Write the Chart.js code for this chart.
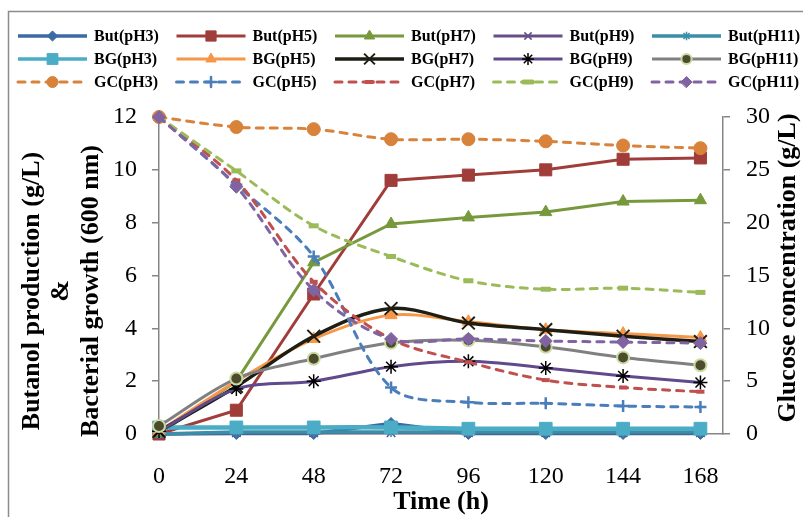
<!DOCTYPE html>
<html lang="en">
<head>
    <meta charset="UTF-8">
    <title>Butanol, growth and glucose vs time</title>
    <script src="https://cdn.jsdelivr.net/npm/chart.js"></script>
    <style>
        body { margin: 0; background: #fff; }
        canvas { display: block; }
    </style>
</head>
<body>
    <canvas id="chart" width="803" height="517"></canvas>

    <script>
        const FONT = '"Liberation Serif", "Times New Roman", serif';

        // sampling times (h)
        const timeH = [0, 24, 48, 72, 96, 120, 144, 168];

        // butanol production (g/L)
        const butPH3  = [0, 0.02, 0.02, 0.4, 0.02, 0.02, 0.02, 0.02];
        const butPH5  = [0, 0.9, 5.3, 9.6, 9.8, 10.0, 10.4, 10.45];
        const butPH7  = [0, 2.0, 6.5, 7.95, 8.2, 8.4, 8.8, 8.85];
        const butPH9  = [0, 0.05, 0.05, 0.05, 0.05, 0.05, 0.05, 0.05];
        const butPH11 = [0, 0.08, 0.08, 0.08, 0.08, 0.08, 0.08, 0.08];

        // bacterial growth (OD 600 nm)
        const bgPH3  = [0.25, 0.25, 0.25, 0.25, 0.2, 0.2, 0.2, 0.2];
        const bgPH5  = [0.1, 2.0, 3.6, 4.5, 4.25, 3.95, 3.8, 3.65];
        const bgPH7  = [0.1, 1.8, 3.7, 4.75, 4.2, 3.95, 3.7, 3.5];
        const bgPH9  = [0.1, 1.7, 2.0, 2.55, 2.75, 2.5, 2.2, 1.95];
        const bgPH11 = [0.3, 2.1, 2.85, 3.45, 3.55, 3.3, 2.9, 2.6];

        // glucose concentration (g/L)
        const gcPH3  = [30, 29.05, 28.85, 27.9, 27.9, 27.7, 27.3, 27.05];
        const gcPH5  = [30, 23.6, 16.8, 4.4, 3.0, 2.9, 2.65, 2.55];
        const gcPH7  = [30, 24.0, 14.4, 9.0, 6.8, 5.1, 4.4, 4.0];
        const gcPH9  = [30, 24.9, 19.7, 16.8, 14.5, 13.7, 13.8, 13.4];
        const gcPH11 = [30, 23.4, 13.6, 9.0, 9.0, 8.8, 8.7, 8.6];

        const leftTicks = [0, 2, 4, 6, 8, 10, 12];
        const rightTicks = [0, 5, 10, 15, 20, 25, 30];

        function series(label, values, axis, s) {
            return {
                label: label,
                yAxisID: axis,
                data: values.map((v, i) => ({ x: timeH[i], y: v })),
                borderColor: s.color,
                backgroundColor: s.color,
                borderWidth: s.width || 3,
                borderDash: s.dash || [],
                borderCapStyle: s.dash ? 'round' : 'butt',
                tension: s.smooth ? 0.33 : 0,
                pointStyle: s.point,
                pointRadius: s.r,
                pointBorderWidth: s.pbw || 1,
                pointBackgroundColor: s.fill || s.color,
                pointBorderColor: s.edge || s.color,
                fill: false,
                clip: false
            };
        }

        const dash = [7, 7];
        const datasets = [
            series('But(pH3)', butPH3, 'y', { color: '#3B6BA5', point: 'rectRot', r: 6, width: 3.5 }),
            series('But(pH5)', butPH5, 'y', { color: '#A03D3A', point: 'rect', r: 8.5 }),
            series('But(pH7)', butPH7, 'y', { color: '#77993C', point: 'triangle', r: 7 }),
            series('But(pH9)', butPH9, 'y', { color: '#664F86', point: 'crossRot', r: 6, pbw: 1.5 }),
            series('But(pH11)', butPH11, 'y', { color: '#3A8EA8', point: 'star', r: 5, pbw: 1.5, width: 3.5 }),
            series('BG(pH3)', bgPH3, 'y', { color: '#4BACC6', point: 'rect', r: 9, width: 4.5, smooth: true }),
            series('BG(pH5)', bgPH5, 'y', { color: '#F79646', point: 'triangle', r: 7, smooth: true }),
            series('BG(pH7)', bgPH7, 'y', { color: '#1E1E14', point: 'crossRot', r: 9, pbw: 2, width: 3.5, smooth: true }),
            series('BG(pH9)', bgPH9, 'y', { color: '#604A8B', point: 'star', r: 7, pbw: 1.5, edge: '#000', smooth: true }),
            series('BG(pH11)', bgPH11, 'y', { color: '#808080', point: 'circle', r: 6, pbw: 2, fill: '#4D4A2E', edge: '#C9DBA5', smooth: true }),
            series('GC(pH3)', gcPH3, 'y2', { color: '#D8823A', point: 'circle', r: 6.5, dash: dash, smooth: true }),
            series('GC(pH5)', gcPH5, 'y2', { color: '#4A7EBB', point: 'cross', r: 6, pbw: 2.5, dash: dash, smooth: true }),
            series('GC(pH7)', gcPH7, 'y2', { color: '#C0504D', point: 'line', r: 4, pbw: 4, dash: dash, smooth: true }),
            series('GC(pH9)', gcPH9, 'y2', { color: '#9BBB59', point: 'line', r: 5, pbw: 5, dash: dash, smooth: true }),
            series('GC(pH11)', gcPH11, 'y2', { color: '#8064A2', point: 'rectRot', r: 6.5, dash: dash, smooth: true })
        ];
        // later series sit on top
        datasets.forEach((d, i) => { d.order = datasets.length - i; });

        const whiteBg = {
            id: 'whiteBg',
            beforeDraw(chart) {
                const ctx = chart.ctx;
                ctx.save();
                ctx.fillStyle = '#fff';
                ctx.fillRect(0, 0, chart.width, chart.height);
                ctx.strokeStyle = '#8c8c8c';
                ctx.lineWidth = 1.5;
                ctx.strokeRect(8.5, 11.5, 830, 540);
                ctx.restore();
            }
        };

        // 5 x 3 legend grid plus the axis titles
        const extras = {
            id: 'extras',
            afterDraw(chart) {
                const ctx = chart.ctx;
                const rows = [36, 59, 82];
                chart.data.datasets.forEach((d, i) => {
                    const x0 = 18 + (i % 5) * 158.5;
                    const y = rows[Math.floor(i / 5)];
                    ctx.save();
                    ctx.strokeStyle = d.borderColor;
                    ctx.lineWidth = Math.min(d.borderWidth, 3.5);
                    ctx.lineCap = d.borderCapStyle;
                    ctx.setLineDash(d.borderDash);
                    ctx.beginPath();
                    ctx.moveTo(x0, y);
                    ctx.lineTo(x0 + 69, y);
                    ctx.stroke();
                    ctx.setLineDash([]);
                    ctx.fillStyle = d.pointBackgroundColor;
                    ctx.strokeStyle = d.pointBorderColor;
                    ctx.lineWidth = d.pointBorderWidth;
                    Chart.helpers.drawPoint(ctx, {
                        pointStyle: d.pointStyle,
                        radius: d.pointRadius * 0.85,
                        rotation: 0,
                        borderWidth: d.pointBorderWidth
                    }, x0 + 34.5, y);
                    ctx.fillStyle = '#000';
                    ctx.font = 'bold 16px ' + FONT;
                    ctx.textAlign = 'left';
                    ctx.textBaseline = 'middle';
                    ctx.fillText(d.label, x0 + 76, y + 1);
                    ctx.restore();
                });

                ctx.save();
                ctx.fillStyle = '#000';
                ctx.font = 'bold 26px ' + FONT;
                ctx.textAlign = 'center';
                ctx.textBaseline = 'middle';
                [['Butanol production (g/L)', 32], ['&', 61.5], ['Bacterial growth (600 nm)', 91]].forEach(([t, x]) => {
                    ctx.save();
                    ctx.translate(x, 291);
                    ctx.rotate(-Math.PI / 2);
                    ctx.fillText(t, 0, 0);
                    ctx.restore();
                });
                ctx.save();
                ctx.translate(788, 268);
                ctx.rotate(-Math.PI / 2);
                ctx.fillText('Glucose concentration (g/L)', 0, 0);
                ctx.restore();
                ctx.fillText('Time (h)', 441, 502);
                ctx.restore();
            }
        };

        const axisGrey = '#868686';
        const tickFont = { family: FONT, size: 24 };

        new Chart(document.getElementById('chart'), {
            type: 'line',
            data: { datasets: datasets },
            options: {
                responsive: false,
                animation: false,
                events: [],
                layout: { padding: { top: 117, left: 0, right: 0, bottom: 0 } },
                plugins: { legend: { display: false }, tooltip: { enabled: false } },
                scales: {
                    x: {
                        type: 'linear',
                        min: 0,
                        max: 175,
                        afterBuildTicks: s => { s.ticks = timeH.map(v => ({ value: v })); },
                        afterFit: s => { s.height = 83; },
                        ticks: { font: tickFont, color: '#000', padding: 28, maxRotation: 0, autoSkip: false },
                        grid: { display: false, drawTicks: false },
                        border: { display: true, color: axisGrey, width: 1.5 }
                    },
                    y: {
                        position: 'left',
                        min: 0,
                        max: 12,
                        afterBuildTicks: s => { s.ticks = leftTicks.map(v => ({ value: v })); },
                        afterFit: s => { s.width = 159; },
                        ticks: { font: tickFont, color: '#000', padding: 15 },
                        grid: { drawOnChartArea: false, drawTicks: true, tickLength: 7, color: axisGrey, lineWidth: 1.5 },
                        border: { display: true, color: axisGrey, width: 1.5 }
                    },
                    y2: {
                        position: 'right',
                        min: 0,
                        max: 30,
                        afterBuildTicks: s => { s.ticks = rightTicks.map(v => ({ value: v })); },
                        afterFit: s => { s.width = 80; },
                        ticks: { font: tickFont, color: '#000', padding: 16 },
                        grid: { drawOnChartArea: false, drawTicks: true, tickLength: 7, color: axisGrey, lineWidth: 1.5 },
                        border: { display: true, color: axisGrey, width: 1.5 }
                    }
                }
            },
            plugins: [whiteBg, extras]
        });
    </script>
</body>
</html>
